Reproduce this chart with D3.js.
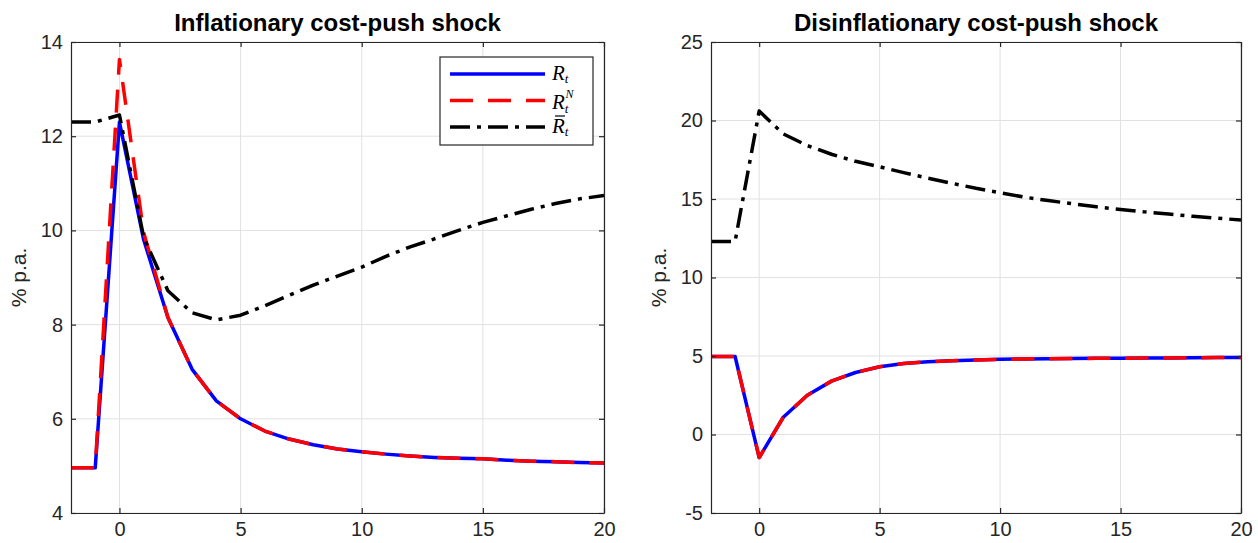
<!DOCTYPE html>
<html>
<head>
<meta charset="utf-8">
<script src="https://cdn.jsdelivr.net/npm/d3@7"></script>
<style>
  html, body { margin: 0; padding: 0; background: #fff; }
  svg { display: block; }
</style>
</head>
<body>
<svg id="chart" width="1258" height="543"></svg>
<script>
// ---------- data ----------
const periods = [-2,-1,0,1,2,3,4,5,6,7,8,9,10,11,12,13,14,15,16,17,18,19,20];

const infR    = [4.96,4.96,12.3,9.8,8.15,7.05,6.38,6.0,5.74,5.57,5.45,5.36,5.30,5.25,5.21,5.18,5.16,5.15,5.12,5.10,5.09,5.07,5.06];
const infRN   = [4.96,4.96,13.63,9.95,8.15,7.05,6.38,6.0,5.74,5.57,5.45,5.36,5.30,5.25,5.21,5.18,5.16,5.15,5.12,5.10,5.09,5.07,5.06];
const infRbar = [12.3,12.3,12.45,9.85,8.72,8.25,8.1,8.2,8.4,8.62,8.84,9.03,9.22,9.45,9.65,9.82,10.0,10.17,10.31,10.45,10.57,10.67,10.74];

const disR    = [4.97,4.97,-1.47,1.1,2.5,3.4,3.95,4.32,4.52,4.63,4.7,4.75,4.79,4.81,4.83,4.84,4.85,4.86,4.87,4.88,4.89,4.9,4.9];
const disRN   = [4.97,4.97,-1.47,1.1,2.5,3.4,3.95,4.32,4.52,4.63,4.7,4.75,4.79,4.81,4.83,4.84,4.85,4.86,4.87,4.88,4.89,4.9,4.9];
const disRbar = [12.3,12.3,20.6,19.15,18.4,17.85,17.4,17.05,16.68,16.33,16.0,15.68,15.4,15.12,14.9,14.7,14.5,14.33,14.18,14.04,13.9,13.78,13.66];

const titles = ["Inflationary cost-push shock", "Disinflationary cost-push shock"];
const yLabel = "% p.a.";
const xTicks = [0,5,10,15,20];
const infYTicks = [4,6,8,10,12,14];
const disYTicks = [-5,0,5,10,15,20,25];
const seriesNames = ["R", "R", "R"]; // R_t, R_t^N, R-bar_t

// ---------- styles ----------
const axisColor = "#262626";
const gridColor = "#e1e1e1";
const styles = [
  { color: "#0000ff", dash: null },
  { color: "#ff0000", dash: "23,15" },
  { color: "#000000", dash: "20,7,4,7" }
];
const lineW = 3.5;
const fontSans = "'Liberation Sans', Arial, Helvetica, sans-serif";
const fontSerif = "'Liberation Serif', 'Times New Roman', serif";

const svg = d3.select("#chart");

function drawPanel(opt) {
  const { left, right, top, bottom, yDomain, yTicks, series, title, legend } = opt;
  const x = d3.scaleLinear().domain([-2, 20]).range([left, right]);
  const y = d3.scaleLinear().domain(yDomain).range([bottom, top]);
  const g = svg.append("g");

  // grid
  g.selectAll("line.gx").data(xTicks).enter().append("line")
    .attr("x1", d => x(d)).attr("x2", d => x(d))
    .attr("y1", top).attr("y2", bottom)
    .attr("stroke", gridColor).attr("stroke-width", 1);
  g.selectAll("line.gy").data(yTicks).enter().append("line")
    .attr("x1", left).attr("x2", right)
    .attr("y1", d => y(d)).attr("y2", d => y(d))
    .attr("stroke", gridColor).attr("stroke-width", 1);

  // lines
  const lineGen = d3.line().x((d, i) => x(periods[i])).y(d => y(d));
  const clipId = "clip" + Math.round(left);
  svg.append("clipPath").attr("id", clipId).append("rect")
    .attr("x", left).attr("y", top).attr("width", right - left).attr("height", bottom - top);
  const lg = g.append("g").attr("clip-path", `url(#${clipId})`);
  series.forEach((s, k) => {
    lg.append("path").datum(s)
      .attr("d", lineGen)
      .attr("fill", "none")
      .attr("stroke", styles[k].color)
      .attr("stroke-width", lineW)
      .attr("stroke-linejoin", "round")
      .attr("stroke-dasharray", styles[k].dash);
  });

  // axes (box)
  const tickLen = 5;
  const fmt = d => String(d);
  const axB = g.append("g").attr("transform", `translate(0,${bottom})`)
    .call(d3.axisBottom(x).tickValues(xTicks).tickFormat(fmt).tickSizeInner(-tickLen).tickSizeOuter(0).tickPadding(9));
  const axT = g.append("g").attr("transform", `translate(0,${top})`)
    .call(d3.axisTop(x).tickValues(xTicks).tickSizeInner(-tickLen).tickSizeOuter(0).tickFormat(""));
  const axL = g.append("g").attr("transform", `translate(${left},0)`)
    .call(d3.axisLeft(y).tickValues(yTicks).tickFormat(fmt).tickSizeInner(-tickLen).tickSizeOuter(0).tickPadding(8));
  const axR = g.append("g").attr("transform", `translate(${right},0)`)
    .call(d3.axisRight(y).tickValues(yTicks).tickSizeInner(-tickLen).tickSizeOuter(0).tickFormat(""));
  [axB, axT, axL, axR].forEach(a => {
    a.select(".domain").attr("stroke", axisColor).attr("stroke-width", 1.2);
    a.selectAll(".tick line").attr("stroke", axisColor).attr("stroke-width", 1.2);
    a.selectAll(".tick text").attr("fill", axisColor)
      .style("font-family", fontSans).style("font-size", "20px");
  });

  // title
  g.append("text")
    .attr("x", (left + right) / 2).attr("y", 30.5)
    .attr("text-anchor", "middle")
    .style("font-family", fontSans).style("font-size", "24px").style("font-weight", "bold")
    .attr("fill", "#000")
    .text(title);

  // y label
  g.append("text")
    .attr("transform", `translate(${left - 45},${(top + bottom) / 2}) rotate(-90)`)
    .attr("text-anchor", "middle")
    .style("font-family", fontSans).style("font-size", "21px")
    .attr("fill", axisColor)
    .text(yLabel);

  if (legend) {
    const bx = right - 164, by = top + 15, bw = 153, bh = 88;
    const lgG = g.append("g");
    lgG.append("rect").attr("x", bx).attr("y", by).attr("width", bw).attr("height", bh)
      .attr("fill", "#fff").attr("stroke", axisColor).attr("stroke-width", 1.2);
    const rows = [0, 1, 2];
    rows.forEach(k => {
      const ry = by + 17 + k * 26.5;
      lgG.append("line")
        .attr("x1", bx + 10).attr("x2", bx + 105)
        .attr("y1", ry).attr("y2", ry)
        .attr("stroke", styles[k].color).attr("stroke-width", lineW)
        .attr("stroke-dasharray", styles[k].dash);
      const tx = bx + 112;
      const baseY = k === 1 ? ry + 8 : ry + 6;
      const t = lgG.append("text").attr("x", tx).attr("y", baseY)
        .style("font-family", fontSerif)
        .style("font-style", "italic").style("font-size", "21px").attr("fill", "#000");
      t.append("tspan").text(seriesNames[k]);
      t.append("tspan").attr("dy", k === 1 ? 4 : 3).style("font-size", "13px").text("t");
      if (k === 1) {
        // superscript N, stacked above the subscript
        lgG.append("text").attr("x", tx + 13.5).attr("y", baseY - 10.5)
          .style("font-family", fontSerif)
          .style("font-style", "italic").style("font-size", "12px").attr("fill", "#000")
          .text("N");
      }
      if (k === 2) {
        lgG.append("line")
          .attr("x1", tx + 3).attr("x2", tx + 13)
          .attr("y1", ry - 11).attr("y2", ry - 11)
          .attr("stroke", "#000").attr("stroke-width", 1.2);
      }
    });
  }
}

drawPanel({
  left: 71, right: 604, top: 42, bottom: 513,
  yDomain: [4, 14], yTicks: infYTicks,
  series: [infR, infRN, infRbar], title: titles[0], legend: true
});
drawPanel({
  left: 711, right: 1241, top: 42, bottom: 513,
  yDomain: [-5, 25], yTicks: disYTicks,
  series: [disR, disRN, disRbar], title: titles[1], legend: false
});
</script>
</body>
</html>
